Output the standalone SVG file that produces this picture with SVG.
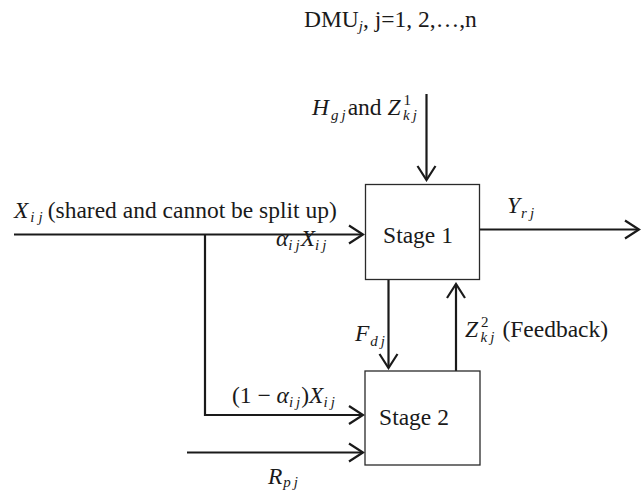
<svg xmlns="http://www.w3.org/2000/svg" width="641" height="492" viewBox="0 0 641 492">
  <style>
    text { font-family: "Liberation Serif", "Times New Roman", serif; font-size: 23.5px; fill: #1a1a1a; }
    .it { font-style: italic; }
    .sub { font-style: italic; font-size: 15px; }
    .sup { font-size: 15px; }
    .box { fill: #ffffff; stroke: #2a2a2a; stroke-width: 1.3; }
    .flow { fill: none; stroke: #1a1a1a; stroke-width: 2.2; }
  </style>
  <defs>
    <marker id="chev" viewBox="-16 -11 18 22" refX="0" refY="0" markerWidth="18" markerHeight="22" markerUnits="userSpaceOnUse" orient="auto">
      <path d="M-14,-9 L0,0 L-14,9" fill="none" stroke="#1a1a1a" stroke-width="2.2"/>
    </marker>
  </defs>

  <!-- title -->
  <text x="304" y="27">DMU<tspan class="sub" dy="4">j</tspan><tspan dy="-4">, j=1, 2,…,n</tspan></text>

  <!-- connectors -->
  <g id="connectors" class="flow">
    <!-- external inputs into stage 1 -->
    <line x1="426.5" y1="94" x2="426.5" y2="180" marker-end="url(#chev)"/>
    <line x1="14" y1="234.5" x2="363" y2="234.5" marker-end="url(#chev)"/>
    <!-- split of shared input to stage 2 -->
    <polyline points="205,234.5 205,415 363,415" marker-end="url(#chev)"/>
    <line x1="187" y1="452.5" x2="363" y2="452.5" marker-end="url(#chev)"/>
    <!-- final output -->
    <line x1="480" y1="229.5" x2="639" y2="229.5" marker-end="url(#chev)"/>
    <!-- intermediate and feedback flows -->
    <line x1="388.5" y1="280" x2="388.5" y2="368" marker-end="url(#chev)"/>
    <line x1="456" y1="371" x2="456" y2="284" marker-end="url(#chev)"/>
  </g>

  <!-- stage nodes -->
  <g id="stage1">
    <rect class="box" x="365.5" y="184.5" width="114" height="95"/>
    <text x="418" y="243" text-anchor="middle">Stage 1</text>
  </g>
  <g id="stage2">
    <rect class="box" x="365" y="371" width="115" height="94"/>
    <text x="414" y="425" text-anchor="middle">Stage 2</text>
  </g>

  <!-- flow labels; subscripts use spaced italic letters -->
  <g id="labels">
    <text x="312" y="115"><tspan class="it">H</tspan><tspan class="sub" dx="2" dy="5">g</tspan><tspan class="sub" dx="3">j</tspan><tspan dy="-5" dx="2">and </tspan><tspan class="it">Z</tspan><tspan class="sup" dx="3" dy="-10">1</tspan><tspan class="sub" dx="-8" dy="15">k</tspan><tspan class="sub" dx="3">j</tspan></text>
    <text x="14" y="218"><tspan class="it">X</tspan><tspan class="sub" dx="2" dy="4">i</tspan><tspan class="sub" dx="4">j</tspan><tspan dy="-4" dx="5">(shared and cannot be split up)</tspan></text>
    <text x="276" y="246"><tspan class="it">α</tspan><tspan class="sub" dy="4">i</tspan><tspan class="sub" dx="3">j</tspan><tspan class="it" dy="-4" dx="1">X</tspan><tspan class="sub" dy="4">i</tspan><tspan class="sub" dx="3">j</tspan></text>
    <text x="507" y="213"><tspan class="it">Y</tspan><tspan class="sub" dx="1" dy="5">r</tspan><tspan class="sub" dx="3">j</tspan></text>
    <text x="355" y="341"><tspan class="it">F</tspan><tspan class="sub" dx="1" dy="5">d</tspan><tspan class="sub" dx="3">j</tspan></text>
    <text x="465" y="337"><tspan class="it">Z</tspan><tspan class="sup" dx="3" dy="-10">2</tspan><tspan class="sub" dx="-8" dy="15">k</tspan><tspan class="sub" dx="3">j</tspan><tspan dy="-5" dx="8">(Feedback)</tspan></text>
    <text x="232" y="403">(1 − <tspan class="it">α</tspan><tspan class="sub" dy="4">i</tspan><tspan class="sub" dx="3">j</tspan><tspan dy="-4" dx="1">)</tspan><tspan class="it">X</tspan><tspan class="sub" dy="4">i</tspan><tspan class="sub" dx="3">j</tspan></text>
    <text x="268" y="484"><tspan class="it">R</tspan><tspan class="sub" dx="1" dy="3">p</tspan><tspan class="sub" dx="3">j</tspan></text>
  </g>
</svg>
